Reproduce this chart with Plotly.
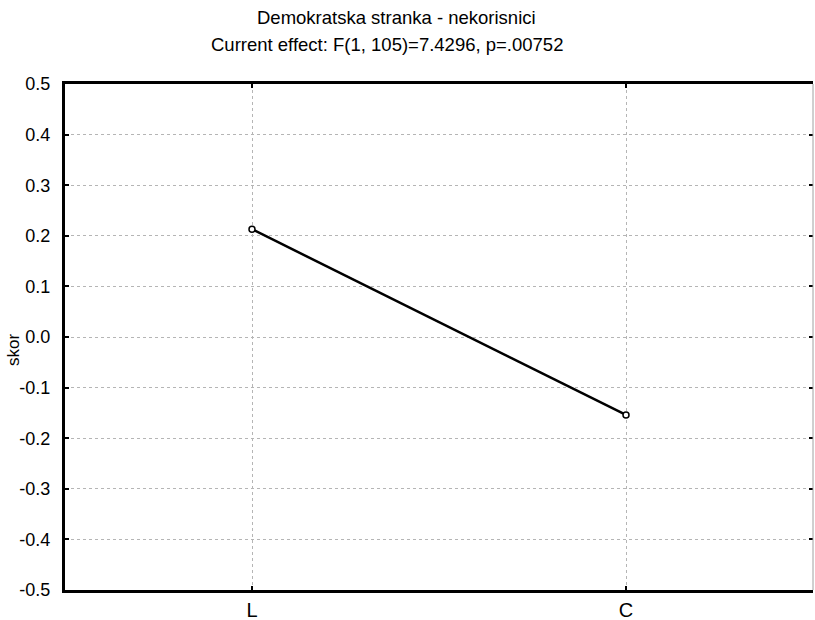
import plotly.graph_objects as go

categories = ["L", "C"]
values = [0.213, -0.154]
y_ticks = [0.5, 0.4, 0.3, 0.2, 0.1, 0.0, -0.1, -0.2, -0.3, -0.4, -0.5]
y_ticktext = ["0.5", "0.4", "0.3", "0.2", "0.1", "0.0", "-0.1", "-0.2", "-0.3", "-0.4", "-0.5"]
title1 = "Demokratska stranka - nekorisnici"
title2 = "Current effect: F(1, 105)=7.4296, p=.00752"

FONT = "Liberation Sans, Arial, sans-serif"
ML, MR, MT, MB = 65, 2, 84, 30
W, H = 815, 620
PW, PH = W - ML - MR, H - MT - MB

fig = go.Figure()
fig.add_trace(go.Scatter(
    x=categories, y=values, mode="lines+markers",
    line=dict(color="black", width=2.5),
    marker=dict(symbol="circle", size=6, color="white", line=dict(color="black", width=1.5)),
    showlegend=False,
))
fig.add_trace(go.Scatter(x=categories, y=values, yaxis="y2", mode="none",
                         showlegend=False, hoverinfo="skip"))

def px_x(px):
    return (px - ML) / PW

def px_y(py):
    return 1 + (MT - py) / PH

fig.update_layout(
    width=W, height=H,
    margin=dict(l=ML, r=MR, t=MT, b=MB, autoexpand=False),
    paper_bgcolor="white", plot_bgcolor="white",
    font=dict(family=FONT, size=17, color="black"),
    xaxis=dict(
        type="category", range=[-0.5, 1.5], automargin=False,
        showline=True, linecolor="black", linewidth=3, mirror="ticks",
        ticks="inside", ticklen=4, tickwidth=2, tickcolor="black",
        showgrid=True, gridcolor="#b5b5b5", griddash="dot", gridwidth=1,
        zeroline=False, ticklabelstandoff=0,
        tickfont=dict(size=20),
    ),
    yaxis=dict(
        range=[-0.5, 0.5], tickvals=y_ticks, ticktext=y_ticktext, automargin=False,
        showline=True, linecolor="black", linewidth=3,
        ticks="inside", ticklen=4, tickwidth=2, tickcolor="black",
        showgrid=True, gridcolor="#b5b5b5", griddash="dot", gridwidth=1,
        zeroline=False, ticklabelstandoff=8,
        tickfont=dict(size=18),
    ),
    yaxis2=dict(
        overlaying="y", side="right", range=[-0.5, 0.5], tickvals=y_ticks,
        showticklabels=False, showline=False,
        ticks="inside", ticklen=4, tickwidth=2, tickcolor="black",
        showgrid=False, zeroline=False, automargin=False,
    ),
    shapes=[
        dict(type="line", xref="paper", yref="paper", x0=1, x1=1, y0=0, y1=1,
             line=dict(color="#a0a0a0", width=1)),
    ],
    annotations=[
        dict(text=title1, x=px_x(396), y=px_y(17), xref="paper", yref="paper",
             showarrow=False, yanchor="middle", font=dict(size=18.5)),
        dict(text=title2, x=px_x(387), y=px_y(44), xref="paper", yref="paper",
             showarrow=False, yanchor="middle", font=dict(size=18.5)),
        dict(text="skor", x=px_x(13), y=px_y(350), xref="paper", yref="paper",
             showarrow=False, textangle=-90, xanchor="center", yanchor="middle",
             font=dict(size=17)),
    ],
)

post = (
    "document.body.style.margin='0';"
    "document.body.style.overflow='hidden';"
    "var gd=document.getElementById('{plot_id}');"
    "Plotly.relayout(gd,{width:815,height:620});"
)
fig.write_html("out.html", post_script=post, config={"displayModeBar": False})
